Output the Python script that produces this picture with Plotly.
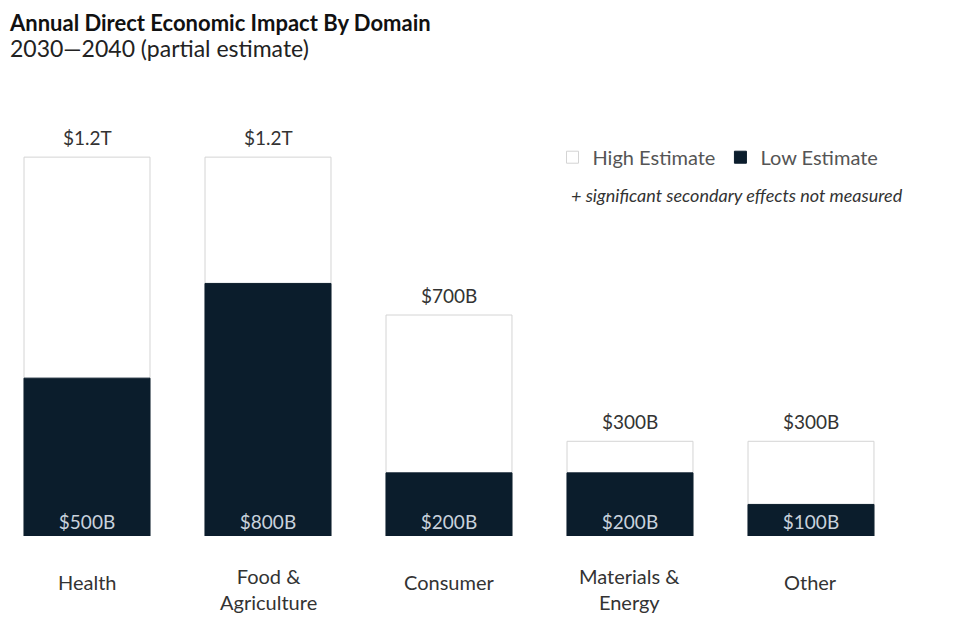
import plotly.graph_objects as go

categories = ["Health", "Food &<br>Agriculture", "Consumer", "Materials &<br>Energy", "Other"]
high_values = [1200, 1200, 700, 300, 300]   # $B
low_values = [500, 800, 200, 200, 100]      # $B
high_labels = ["$1.2T", "$1.2T", "$700B", "$300B", "$300B"]
low_labels = ["$500B", "$800B", "$200B", "$200B", "$100B"]
title_text = "Annual Direct Economic Impact By Domain"
subtitle_text = "2030\u20142040 (partial estimate)"
note_text = "+ significant secondary effects not measured"

FONT = "Lato"
DARK = "#0b1d2c"

x = list(range(len(categories)))

fig = go.Figure()
fig.add_trace(go.Bar(
    x=x, y=high_values, name="High Estimate",
    marker=dict(color="white", line=dict(color="#d4d4d4", width=1)),
    width=0.696, hoverinfo="skip",
))
fig.add_trace(go.Bar(
    x=x, y=low_values, name="Low Estimate",
    marker=dict(color=DARK, line=dict(color=DARK, width=1)),
    text=low_labels, textposition="inside", insidetextanchor="start",
    textfont=dict(family=FONT, size=19, color="#c9d2dc"),
    width=0.696, hoverinfo="skip",
))

annotations = []
for i, (c, hv, hl) in enumerate(zip(categories, high_values, high_labels)):
    two = "<br>" in c
    annotations.append(dict(
        x=i, y=0, xref="x", yref="y", text=c, showarrow=False,
        yanchor="middle", yshift=-53 if two else -46,
        font=dict(family=FONT, size=20, color="#333333"),
    ))
    annotations.append(dict(
        x=i, y=hv, xref="x", yref="y", text=hl, showarrow=False,
        yanchor="bottom", yshift=6,
        font=dict(family=FONT, size=19, color="#333333"),
    ))

annotations += [
    dict(x=0.0, y=528 / 442, xref="paper", yref="paper", xanchor="left", yanchor="top",
         align="left", borderpad=0,
         text=("<span style='font-size:22px;color:#111111'><b>" + title_text + "</b></span><br>"
               "<span style='font-size:23px;color:#222222'>" + subtitle_text + "</span>"),
         showarrow=False,
         font=dict(family=FONT, size=20, color="#222222")),
    dict(x=0.623, y=0.7715, xref="paper", yref="paper", xanchor="left", yanchor="middle",
         text="<i>" + note_text + "</i>", showarrow=False,
         font=dict(family=FONT, size=18, color="#333333")),
]

fig.update_layout(
    width=980, height=632,
    barmode="overlay",
    plot_bgcolor="white", paper_bgcolor="white",
    margin=dict(l=0, r=80, t=86, b=104),
    showlegend=True,
    legend=dict(orientation="h", x=0.605, y=0.857, xanchor="left", yanchor="middle",
                font=dict(family=FONT, size=20, color="#555555"),
                traceorder="normal", itemclick=False),
    xaxis=dict(range=[-0.4365, 4.536], showticklabels=False, showgrid=False,
               zeroline=False, showline=False, fixedrange=True),
    yaxis=dict(range=[0, 1400], visible=False, fixedrange=True),
    annotations=annotations,
)

fig.write_html("out.html")
